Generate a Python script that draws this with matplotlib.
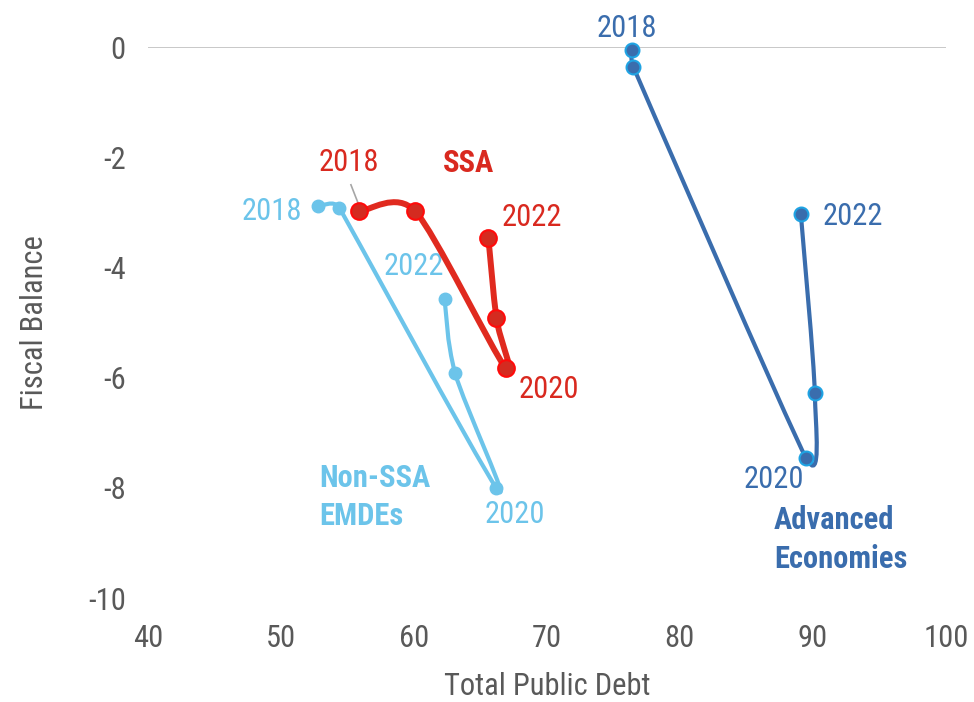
import numpy as np
import matplotlib
matplotlib.use("Agg")
import matplotlib.pyplot as plt
from matplotlib.path import Path
from matplotlib.patches import PathPatch
from matplotlib import font_manager

# Data
years = ["2018", "2019", "2020", "2021", "2022"]
ssa_debt = [55.9, 60.1, 66.9, 66.2, 65.6]
ssa_bal = [-2.98, -2.98, -5.83, -4.92, -3.47]
emde_debt = [52.8, 54.4, 66.2, 63.1, 62.3]
emde_bal = [-2.89, -2.92, -8.00, -5.92, -4.57]
adv_debt = [76.4, 76.5, 89.5, 90.15, 89.1]
adv_bal = [-0.05, -0.36, -7.46, -6.28, -3.03]

xticks = [40, 50, 60, 70, 80, 90, 100]
yticks = [0, -2, -4, -6, -8, -10]
xticklabels = ["40", "50", "60", "70", "80", "90", "100"]
yticklabels = ["0", "-2", "-4", "-6", "-8", "-10"]

# Fonts: prefer a narrow sans if one is around
installed = {f.name for f in font_manager.fontManager.ttflist}
fam, FS = "Liberation Sans", 20
for cand in ["Liberation Sans Narrow", "Arial Narrow", "Roboto Condensed", "Open Sans Condensed"]:
    if cand in installed:
        fam, FS = cand, 22
        break
plt.rcParams["font.family"] = [fam, "DejaVu Sans"]

RED, RED_TXT = "#E02A1F", "#D9291F"
LBLUE = "#6CC4EA"
DBLUE = "#3A6DAD"
GREY = "#595959"


def smooth_curve(ax, xs, ys, **kw):
    # Excel-style smoothed line: Bezier segments with tangents built in pixel space
    pts = ax.transData.transform(np.column_stack([xs, ys]))
    n = len(pts)
    tang = []
    for i in range(n):
        prev = pts[i - 1] if i > 0 else pts[i]
        nxt = pts[i + 1] if i < n - 1 else pts[i]
        t = (nxt - prev) / 6.0
        caps = []
        if i > 0:
            caps.append(np.linalg.norm(pts[i] - pts[i - 1]) / 2)
        if i < n - 1:
            caps.append(np.linalg.norm(pts[i + 1] - pts[i]) / 2)
        m = np.linalg.norm(t)
        if m > 0 and m > min(caps):
            t = t * min(caps) / m
        tang.append(t)
    verts = [pts[0]]
    codes = [Path.MOVETO]
    for i in range(n - 1):
        verts += [pts[i] + tang[i], pts[i + 1] - tang[i + 1], pts[i + 1]]
        codes += [Path.CURVE4] * 3
    verts = ax.transData.inverted().transform(np.array(verts))
    patch = PathPatch(Path(verts, codes), fill=False, capstyle="round",
                      joinstyle="round", **kw)
    ax.add_patch(patch)


fig = plt.figure(figsize=(9.74, 7.02), dpi=100)
ax = fig.add_axes([0.152, 0.148, 0.819, 0.785])
ax.set_xlim(40, 100)
ax.set_ylim(-10, 0)

for s in ax.spines.values():
    s.set_visible(False)
ax.axhline(0, color="#BFBFBF", lw=1.2, zorder=1)

ax.set_xticks(xticks)
ax.set_xticklabels(xticklabels)
ax.set_yticks(yticks)
ax.set_yticklabels(yticklabels)
ax.tick_params(length=0, labelsize=FS, labelcolor=GREY)
ax.tick_params(axis="x", pad=19)
ax.tick_params(axis="y", pad=16)
ax.set_xlabel("Total Public Debt", fontsize=FS, color=GREY, labelpad=13)
ax.set_ylabel("Fiscal Balance", fontsize=FS, color=GREY, labelpad=28)

# lines
smooth_curve(ax, emde_debt, emde_bal, color=LBLUE, lw=3.0, zorder=2)
ax.plot(emde_debt, emde_bal, "o", ms=9, mfc=LBLUE, mec=LBLUE, zorder=3)
smooth_curve(ax, ssa_debt, ssa_bal, color=RED, lw=4.3, zorder=4)
ax.plot(ssa_debt, ssa_bal, "o", ms=12, mfc="#D42B20", mec="#FF0A0A", mew=1.5, zorder=5)
smooth_curve(ax, adv_debt, adv_bal, color=DBLUE, lw=3.0, zorder=4)
ax.plot(adv_debt, adv_bal, "o", ms=10, mfc=DBLUE, mec="#1FA3E3", mew=1.5,
        zorder=5, clip_on=False)

# labels
ax.plot([55.26, 55.94], [-2.50, -2.92], color="#A6A6A6", lw=1.2, zorder=3)
ax.text(55.1, -2.1, years[0], color=RED_TXT, fontsize=FS, ha="center", va="center")
ax.text(64.1, -2.1, "SSA", color=RED_TXT, fontsize=FS, fontweight="bold",
        ha="center", va="center")
ax.text(68.9, -3.1, years[4], color=RED_TXT, fontsize=FS, ha="center", va="center")
ax.text(70.15, -6.22, years[2], color=RED_TXT, fontsize=FS, ha="center", va="center")

ax.text(49.3, -2.98, years[0], color=LBLUE, fontsize=FS, ha="center", va="center")
ax.text(60.0, -3.99, years[4], color=LBLUE, fontsize=FS, ha="center", va="center")
ax.text(67.6, -8.48, years[2], color=LBLUE, fontsize=FS, ha="center", va="center")
ax.text(52.9, -8.16, "Non-SSA\nEMDEs", color=LBLUE, fontsize=FS, fontweight="bold",
        ha="left", va="center", linespacing=1.35)

ax.text(76.0, 0.34, years[0], color=DBLUE, fontsize=FS, ha="center", va="center")
ax.text(93.0, -3.07, years[4], color=DBLUE, fontsize=FS, ha="center", va="center")
ax.text(87.1, -7.84, years[2], color=DBLUE, fontsize=FS, ha="center", va="center")
ax.text(87.07, -8.94, "Advanced\nEconomies", color=DBLUE, fontsize=FS, fontweight="bold",
        ha="left", va="center", linespacing=1.35)

fig.savefig("out.png", dpi=100)
